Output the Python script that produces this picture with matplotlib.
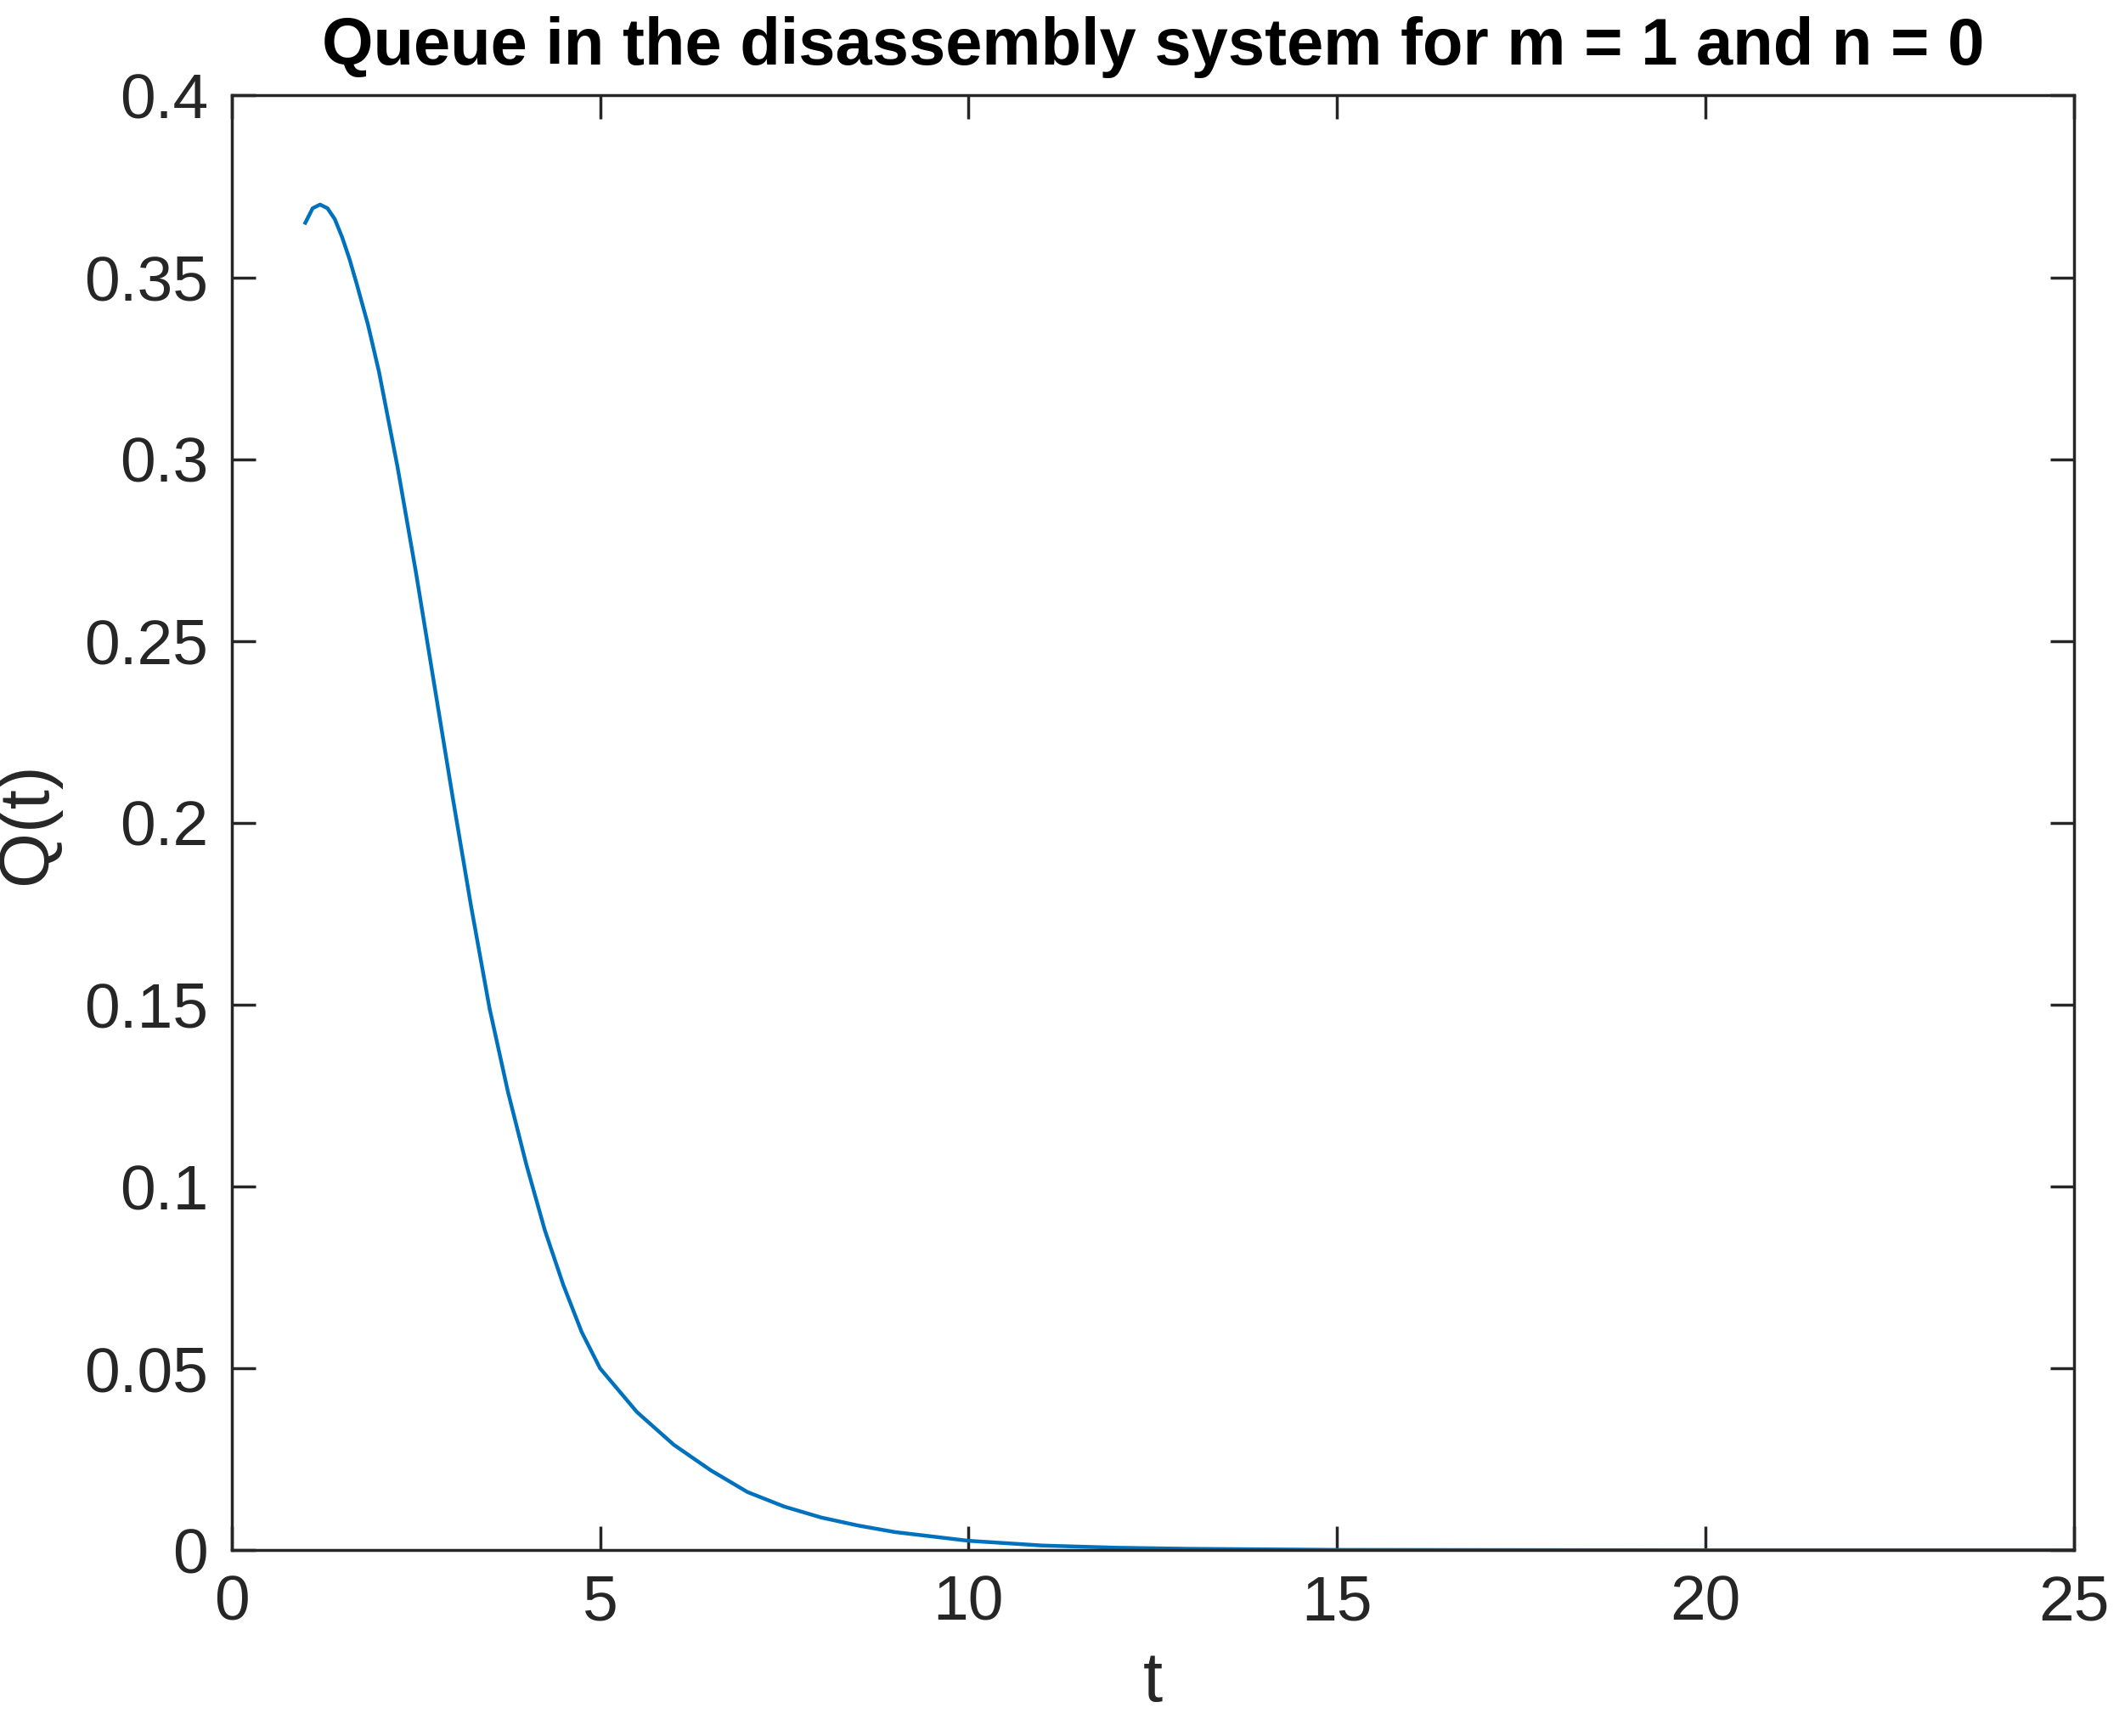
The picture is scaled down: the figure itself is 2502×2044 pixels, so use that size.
import matplotlib
matplotlib.use("Agg")
import matplotlib.pyplot as plt

t_vals = [1.0, 1.1, 1.2, 1.3, 1.4, 1.5, 1.6, 1.7, 1.85, 2.0, 2.25, 2.5, 2.75, 3.0, 3.25,
          3.5, 3.75, 4.0, 4.25, 4.5, 4.75, 5.0, 5.5, 6.0, 6.5, 7.0, 7.5, 8.0, 8.5, 9.0,
          10.0, 11.0, 12.0, 13.0, 15.0, 20.0, 25.0]
q_vals = [0.365, 0.369, 0.370, 0.369, 0.366, 0.361, 0.355, 0.348, 0.337, 0.324, 0.298,
          0.269, 0.238, 0.207, 0.177, 0.149, 0.126, 0.106, 0.088, 0.073, 0.060, 0.050,
          0.038, 0.029, 0.022, 0.016, 0.012, 0.009, 0.0068, 0.005, 0.0026, 0.0013,
          0.0007, 0.0004, 0.0001, 0.0, 0.0]
x_ticks = [0, 5, 10, 15, 20, 25]
y_ticks = [0, 0.05, 0.1, 0.15, 0.2, 0.25, 0.3, 0.35, 0.4]
y_labels = ["0", "0.05", "0.1", "0.15", "0.2", "0.25", "0.3", "0.35", "0.4"]

plt.rcParams['font.family'] = ['Liberation Sans', 'DejaVu Sans']
fig = plt.figure(figsize=(25.02, 20.44), dpi=100)
ax = fig.add_axes([0.109, 0.107, 0.867, 0.838])
ax.plot(t_vals, q_vals, color='#0072BD', linewidth=3.2)
ax.set_xlim(0, 25)
ax.set_ylim(0, 0.4)
ax.set_xticks(x_ticks)
ax.set_yticks(y_ticks)
ax.set_yticklabels(y_labels)
ax.tick_params(direction='in', top=True, right=True, length=20, width=2.5,
               labelsize=54, colors='#262626', pad=20)
for s in ax.spines.values():
    s.set_linewidth(2.5)
    s.set_color('#262626')
ax.set_xlabel('t', fontsize=60, color='#262626', labelpad=14)
ax.set_ylabel('Q(t)', fontsize=60, color='#262626', labelpad=20)
ax.set_title('Queue in the disassembly system for m = 1 and n = 0',
             fontsize=56, fontweight='bold', pad=26)
fig.savefig('out.png', dpi=100)
